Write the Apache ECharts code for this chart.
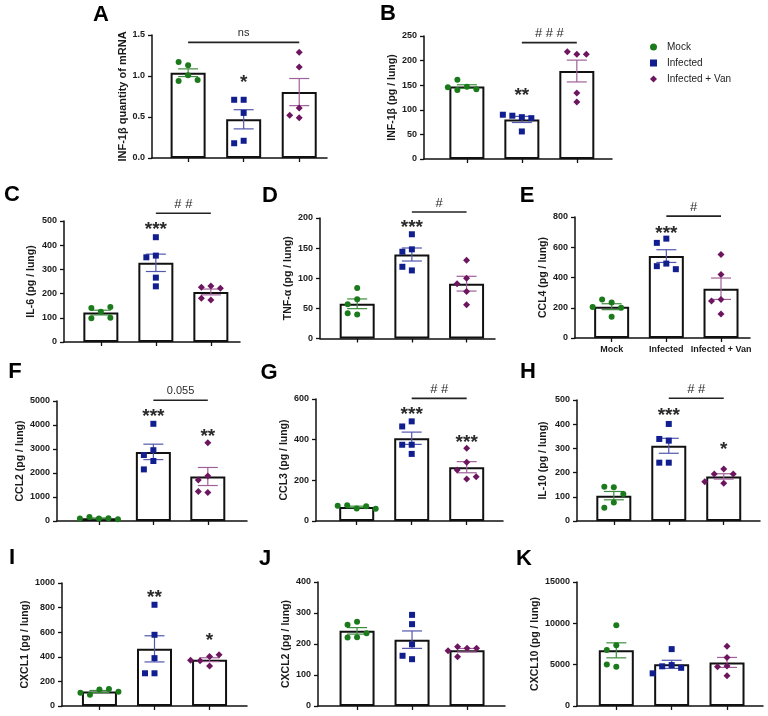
<!DOCTYPE html>
<html><head><meta charset="utf-8">
<script src="https://cdn.jsdelivr.net/npm/echarts@6/dist/echarts.min.js"></script>
<style>html,body{margin:0;padding:0;background:#fff}#c{width:768px;height:716px}</style>
</head><body><div id="c"></div>
<script>
// ---------- DATA ----------
const groups = ['Mock', 'Infected', 'Infected + Van'];
const panelLetters = ['A','B','C','D','E','F','G','H','I','J','K'];
const yNames = ['INF-1β quantity of mRNA','INF-1β (pg / lung)','IL-6 (pg / lung)','TNF-α (pg / lung)','CCL4 (pg / lung)','CCL2 (pg / lung)','CCL3 (pg / lung)','IL-10 (pg / lung)','CXCL1 (pg / lung)','CXCL2 (pg / lung)','CXCL10 (pg / lung)'];
const yMax  = [1.5, 250, 500, 200, 800, 5000, 600, 500, 1000, 400, 15000];
const yStep = [0.5, 50, 100, 50, 200, 1000, 200, 100, 200, 100, 5000];
const yDecimals = [1,0,0,0,0,0,0,0,0,0,0];

const valuesA = [[1.13,1.17,1.01,0.94,0.95],[0.71,0.71,0.55,0.21,0.18],[1.29,1.11,0.61,0.49,0.52]];
const valuesB = [[147,161,140,142,146],[85,88,83,90,56],[213,218,213,134,116]];
const valuesC = [[125,140,145,98,100],[357,433,350,266,230],[231,226,222,174,181]];
const valuesD = [[84,65,57,40,42],[173,148,144,113,119],[130,100,91,78,56]];
const valuesE = [[235,255,200,205,140],[657,629,492,475,455],[552,420,255,244,158]];
const valuesF = [[100,170,110,100,70],[4050,2950,2750,2500,2150],[3260,1880,1710,1190,1230]];
const valuesG = [[62,78,72,75,60],[490,465,375,375,330],[358,289,251,207,218]];
const valuesH = [[139,142,112,76,55],[401,332,339,241,241],[215,194,194,156,162]];
const valuesI = [[135,92,138,108,115],[823,579,389,266,266],[402,367,416,326,372]];
const valuesJ = [[272,262,222,235,221],[294,264,199,151,162],[186,191,186,159,178]];
const valuesK = [[9775,7360,6760,4745,5030],[6880,4950,4800,4620,3950],[7240,5875,4830,4745,3660]];

// significance marks: [group, text, value]
const starsA = [[1,'*',0.976]];
const starsB = [[1,'**',139]];
const starsC = [[1,'***',486]];
const starsD = [[1,'***',192]];
const starsE = [[1,'***',725]];
const starsF = [[1,'***',4544],[2,'**',3744]];
const starsG = [[1,'***',546],[2,'***',412]];
const starsH = [[1,'***',454],[2,'*',314]];
const starsI = [[1,'**',923],[2,'*',570]];
const starsJ = [];
const starsK = [];
// comparison bars: [fromGroup, toGroup, value, text]
const sigA = [[0,2,1.41,'ns']];
const sigB = [[1,2,236.5,'# # #']];
const sigC = [[1,2,532,'# #']];
const sigD = [[1,2,210,'#']];
const sigE = [[1,2,806,'#']];
const sigF = [[1,2,5029,'0.055']];
const sigG = [[1,2,603,'# #']];
const sigH = [[1,2,507,'# #']];
const sigI = [], sigJ = [], sigK = [];

// ---------- LAYOUT / STYLE ----------
// [left, top, width, height, xmin, xmax, nameGap]
const layout = [
  [152, 35, 175, 123, -0.65, 2.50, 23],
  [424, 36, 188, 123, -0.78, 2.64, 19],
  [64, 221, 176, 121, -0.67, 2.53, 27],
  [320, 218, 175, 120.5, -0.68, 2.52, 23],
  [575, 217, 175, 121, -0.67, 2.53, 23],
  [57, 401, 190, 120, -0.77, 2.72, 24],
  [316, 399, 187, 122, -0.74, 2.66, 21],
  [577, 400, 183, 121, -0.67, 2.66, 28],
  [62, 583, 185, 123, -0.68, 2.68, 28],
  [318, 582, 187, 124, -0.71, 2.69, 20],
  [577, 582, 186, 124, -0.71, 2.65, 32]
];
const letterPos = [[101,15],[388,14],[12,195],[270,196],[527,196],[15,372],[269,373],[528,372],[12,558],[265,559],[524,559]];
const dotColors = ['#1b7a1b','#101e8f','#6d165f'];
const errColors = ['#3d8c3d','#5257ad','#a0609a'];
const symbols = ['circle','rect','diamond'];
const symbolSizes = [6,6,7];
const FONT = '"Liberation Sans", Arial, Helvetica, sans-serif';

const allValues = [valuesA,valuesB,valuesC,valuesD,valuesE,valuesF,valuesG,valuesH,valuesI,valuesJ,valuesK];
const allStars = [starsA,starsB,starsC,starsD,starsE,starsF,starsG,starsH,starsI,starsJ,starsK];
const allSig = [sigA,sigB,sigC,sigD,sigE,sigF,sigG,sigH,sigI,sigJ,sigK];

function mean(a){return a.reduce((s,v)=>s+v,0)/a.length;}
function sem(a){const m=mean(a);const v=a.reduce((s,x)=>s+(x-m)*(x-m),0)/(a.length-1);return Math.sqrt(v/a.length);}
function swarm(vals, pyScale, stepPx){
  const placed=[]; const out=[];
  const ks=[0,-1,1,-2,2,-3,3];
  vals.forEach(v=>{
    const py=v*pyScale;
    for(const k of ks){
      const px=k*stepPx;
      if(placed.every(p=>Math.hypot(p[0]-px,p[1]-py)>=8.5)){placed.push([px,py]); out.push(k); break;}
    }
  });
  return out;
}

const grid=[], xAxis=[], yAxis=[], series=[], graphic=[];
layout.forEach((L,p)=>{
  const [left,top,width,height,xmin,xmax,nameGap]=L;
  grid.push({left, top, width, height, containLabel:false});
  const showCat = (p===4);
  xAxis.push({type:'value', gridIndex:p, min:xmin, max:xmax,
    axisLine:{show:true, onZero:false, lineStyle:{color:'#111', width:1.5}},
    axisTick:{show:true, customValues:[0,1,2], length:4, lineStyle:{color:'#111', width:1.3}},
    axisLabel:{show:showCat, customValues:[0,1,2], formatter:v=>groups[Math.round(v)]||'', margin:7,
      fontFamily:FONT, fontWeight:'bold', fontSize:9, color:'#1a1a1a'},
    splitLine:{show:false}});
  const dec = yDecimals[p];
  yAxis.push({type:'value', gridIndex:p, min:0, max:yMax[p], interval:yStep[p],
    name:yNames[p], nameLocation:'middle', nameGap:nameGap,
    nameTextStyle:{fontFamily:FONT, fontWeight:'bold', fontSize:p===0?11:10.5, color:'#1a1a1a'},
    axisLine:{show:true, onZero:false, lineStyle:{color:'#111', width:1.5}},
    axisTick:{show:true, length:4, lineStyle:{color:'#111', width:1.3}},
    axisLabel:{fontFamily:FONT, fontWeight:'bold', fontSize:9, color:'#1a1a1a', margin:7,
      formatter:v=>Number(v).toFixed(dec)},
    splitLine:{show:false}});

  const vals = allValues[p];
  const stats = vals.map((g,i)=>[i, mean(g), sem(g)]);
  series.push({type:'bar', xAxisIndex:p, yAxisIndex:p, barWidth:35, silent:true,
    itemStyle:{color:'#fff', borderColor:'#111', borderWidth:2},
    data: stats.map(s=>[s[0], s[1]]), z:1});
  series.push({type:'custom', xAxisIndex:p, yAxisIndex:p, silent:true, z:3,
    data: stats,
    renderItem:(params, api)=>{
      const x=api.value(0), m=api.value(1), s=api.value(2);
      const t=api.coord([x, m+s]), b=api.coord([x, m-s]);
      const hw=10;
      const style={stroke:errColors[params.dataIndex], lineWidth:1.2};
      return {type:'group', children:[
        {type:'line', shape:{x1:t[0],y1:t[1],x2:b[0],y2:b[1]}, style},
        {type:'line', shape:{x1:t[0]-hw,y1:t[1],x2:t[0]+hw,y2:t[1]}, style},
        {type:'line', shape:{x1:b[0]-hw,y1:b[1],x2:b[0]+hw,y2:b[1]}, style}
      ]};
    }});
  const pyScale = height / yMax[p];
  const unitPx = width / (xmax - xmin);
  const stepPx = 9.5;
  vals.forEach((g,gi)=>{
    const ks = swarm(g, pyScale, stepPx);
    series.push({type:'scatter', name:groups[gi], xAxisIndex:p, yAxisIndex:p, z:5,
      symbol:symbols[gi], symbolSize:symbolSizes[gi], silent:true,
      itemStyle:{color:dotColors[gi], opacity:1},
      data: g.map((v,j)=>[gi + ks[j]*stepPx/unitPx, v])});
  });
  const stars = allStars[p];
  if (stars.length) series.push({type:'custom', xAxisIndex:p, yAxisIndex:p, silent:true, z:6,
    data: stars.map(s=>[s[0], s[2]]),
    renderItem:(params, api)=>{
      const pt=api.coord([api.value(0), api.value(1)]);
      const fs=19;
      return {type:'text', x:pt[0], y:pt[1]+0.27*fs, style:{text:stars[params.dataIndex][1],
        font:'bold '+fs+'px '+FONT, fill:'#2a2a2a', align:'center', verticalAlign:'middle'}};
    }});
  const sig = allSig[p];
  if (sig.length) series.push({type:'custom', xAxisIndex:p, yAxisIndex:p, silent:true, z:6,
    data: sig.map(s=>[s[0], s[1], s[2]]),
    renderItem:(params, api)=>{
      const a=api.coord([api.value(0), api.value(2)]), b=api.coord([api.value(1), api.value(2)]);
      const txt=sig[params.dataIndex][3];
      const isHash = txt.indexOf('#')>=0;
      return {type:'group', children:[
        {type:'line', shape:{x1:a[0],y1:a[1],x2:b[0],y2:b[1]}, style:{stroke:'#222', lineWidth:1.6}},
        {type:'text', x:(a[0]+b[0])/2, y:a[1]-9, style:{text:txt,
          font:(isHash?'13px ':'11px ')+FONT, fill:'#2a2a2a', align:'center', verticalAlign:'middle'}}
      ]};
    }});
  graphic.push({type:'text', x:letterPos[p][0], y:letterPos[p][1], silent:true,
    style:{text:panelLetters[p], font:'bold 22px '+FONT, fill:'#000', align:'center', verticalAlign:'middle'}});
});

const chart = echarts.init(document.getElementById('c'));
chart.setOption({
  animation:false,
  backgroundColor:'#fff',
  grid, xAxis, yAxis, series, graphic,
  legend:{data:groups.map((g,i)=>({name:g, icon:symbols[i]})), orient:'vertical', left:645, top:37,
    itemWidth:7, itemHeight:7, itemGap:6, selectedMode:false,
    textStyle:{fontFamily:FONT, fontSize:10, color:'#222', padding:[0,0,0,5]}}
});
</script>
</body></html>
